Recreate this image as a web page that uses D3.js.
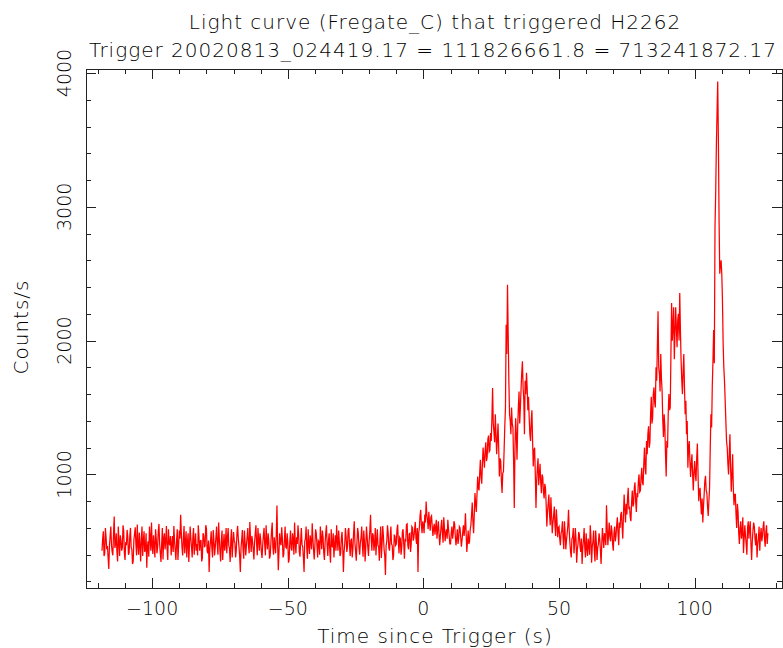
<!DOCTYPE html>
<html>
<head>
<meta charset="utf-8">
<script src="https://cdn.jsdelivr.net/npm/d3@7"></script>
<style>
  html, body { margin: 0; padding: 0; background: #fff; }
  svg { display: block; }
  text { font-family: "DejaVu Sans", "Liberation Sans", sans-serif; font-weight: 200; fill: #000; }
</style>
</head>
<body>
<svg id="chart" width="783" height="648"></svg>
<script>
// Fregate_C count rate in 0.25 s bins, split into three stretches of the light curve.
const binWidth = 0.25;

// Background before the trigger, starting at -118.5 s
const preStart = -118.5;
const countsPre = [
  430, 520, 575, 390, 410, 600, 530, 440, 465, 380, 293, 470, 540, 610, 470, 420, 395, 560, 686, 450,
  480, 560, 420, 350, 610, 500, 390, 545, 505, 430, 455, 620, 580, 410, 360, 495, 470, 585, 530, 400,
  415, 540, 600, 455, 440, 330, 350, 510, 555, 605, 480, 395, 625, 470, 400, 565, 470, 350, 520, 610,
  390, 500, 575, 420, 440, 560, 303, 460, 500, 385, 610, 530, 430, 640, 470, 405, 545, 470, 380, 590,
  520, 410, 455, 575, 630, 480, 410, 345, 480, 600, 365, 520, 560, 440, 500, 615, 440, 360, 590, 485,
  470, 540, 395, 480, 540, 420, 615, 500, 430, 360, 505, 590, 360, 470, 580, 520, 699, 560, 450, 395,
  520, 615, 410, 490, 575, 380, 490, 560, 345, 470, 610, 525, 455, 380, 530, 600, 400, 485, 560, 430,
  480, 395, 620, 540, 430, 500, 510, 350, 375, 560, 545, 460, 465, 620, 595, 430, 410, 505, 270, 440,
  500, 575, 450, 380, 585, 510, 395, 455, 530, 610, 470, 400, 640, 525, 420, 350, 505, 580, 360, 470,
  555, 430, 480, 600, 410, 520, 600, 465, 445, 345, 520, 590, 380, 470, 570, 505, 490, 380, 430, 560,
  615, 520, 460, 390, 270, 450, 510, 585, 440, 370, 580, 495, 395, 470, 530, 600, 470, 410, 645, 520,
  420, 540, 500, 440, 365, 490, 560, 620, 480, 395, 600, 510, 430, 560, 515, 420, 375, 470, 545, 600,
  470, 395, 620, 510, 440, 560, 505, 370, 390, 480, 575, 640, 455, 400, 530, 470, 410, 550, 768, 480,
  283, 420, 560, 490, 470, 605, 520, 380, 400, 510, 610, 455, 450, 560, 495, 340, 365, 500, 580, 450,
  430, 560, 515, 400, 640, 490, 410, 530, 480, 620, 550, 420, 385, 505, 600, 475, 460, 380, 270, 500,
  520, 610, 445, 370, 590, 480, 405, 545, 500, 440, 635, 520, 430, 365, 475, 590, 560, 470, 380, 505,
  495, 400, 610, 520, 440, 580, 530, 415, 360, 490, 565, 620, 470, 390, 505, 560, 420, 340, 590, 470,
  455, 560, 380, 470, 545, 430, 620, 505, 430, 580, 500, 390, 410, 525, 570, 460, 270, 420, 480, 600,
  535, 420, 460, 585, 600, 470, 390, 510, 515, 380, 445, 560, 650, 490, 420, 355, 490, 600, 560, 450,
  400, 490, 525, 610, 470, 385, 580, 500, 350, 460, 610, 535, 455, 390, 505, 580, 699, 520, 430, 560,
  545, 430, 480, 600, 395, 500, 590, 470, 460, 355, 520, 610, 375, 480, 615, 540, 440, 390, 248, 470,
  500, 620, 565, 450, 430, 520, 610, 480, 470, 360, 395, 545, 540, 470, 480, 590, 625, 500, 410, 530,
  520, 400, 455, 570, 590, 480, 370, 510, 505, 625, 630, 470, 440, 555, 560, 420, 480, 610, 600, 505,
  530, 590, 645, 520, 480, 600, 270, 560, 600, 690, 736, 620, 560, 650
];

// First emission episode, from the trigger to 59.75 s
const burst1Start = 0;
const countsBurst1 = [
  620, 560, 700, 640, 798, 700, 660, 590, 720, 640, 580, 680, 690, 610, 540, 600, 630, 550, 600, 660,
  520, 590, 650, 560, 470, 540, 610, 660, 560, 490, 680, 600, 500, 560, 590, 520, 660, 590, 540, 480,
  480, 560, 610, 520, 560, 650, 630, 540, 470, 520, 590, 480, 520, 610, 600, 530, 460, 510, 570, 620,
  540, 600, 710, 560, 420, 500, 580, 480, 500, 590, 620, 700, 790, 650, 560, 700, 860, 780, 720, 850,
  985, 900, 880, 1010, 1110, 980, 930, 1080, 1200, 1120, 1050, 1180, 1240, 1100, 1130, 1260, 1290, 1170, 1180, 1310,
  1250, 1420, 1646, 1380, 1320, 1240, 1450, 1300, 1150, 1260, 1380, 1200, 985, 1120, 1100, 950, 861, 1010, 1020, 1180,
  1360, 1500, 2119, 1900, 2418, 2050, 1700, 1450, 1400, 1300, 1500, 1380, 1350, 1100, 749, 1200, 1420, 1300, 1110, 1350,
  1500, 1620, 1380, 1500, 1640, 1760, 1845, 1650, 1560, 1300, 1700, 1600, 1760, 1650, 1480, 1580, 1420, 1300, 1250, 1400,
  1480, 1250, 1060, 1180, 1200, 1000, 749, 950, 1050, 1120, 920, 1000, 1080, 940, 860, 1000, 980, 870, 820, 930,
  900, 780, 610, 720, 780, 850, 700, 620, 830, 700, 560, 640, 690, 760, 620, 540, 740, 650, 530, 600,
  610, 520, 470, 560, 580, 650, 520, 440, 650, 560, 440, 510, 560, 620, 736, 580, 490, 420, 380, 520,
  530, 600, 410, 480, 600, 520, 340, 440, 480, 570, 550, 460, 420, 520, 330, 450, 510, 600, 450, 380
];

// Second and brightest episode, from 60 s to the end of the record
const burst2Start = 60;
const countsBurst2 = [
  560, 450, 390, 520, 470, 400, 620, 540, 340, 460, 500, 580, 430, 350, 580, 490, 360, 450, 480, 560,
  520, 430, 330, 480, 600, 520, 450, 560, 540, 470, 770, 600, 470, 550, 640, 530, 500, 620, 580, 480,
  430, 560, 610, 500, 540, 620, 680, 560, 470, 640, 600, 700, 720, 610, 520, 700, 850, 740, 640, 780,
  700, 820, 900, 740, 760, 680, 650, 790, 880, 760, 780, 900, 940, 800, 720, 860, 830, 950, 1000, 870,
  880, 980, 1050, 940, 920, 1080, 1200, 1050, 1000, 1250, 1150, 1300, 1360, 1200, 1240, 1450, 1580, 1380, 1420, 1600,
  1650, 1540, 1500, 1800, 1700, 1950, 2219, 1800, 1750, 1620, 1900, 1720, 1620, 1400, 1280, 1450, 1360, 1150, 985, 1250,
  1200, 1450, 1600, 1480, 1500, 1900, 2281, 2000, 2100, 2250, 1860, 2050, 2250, 2100, 1950, 2150, 2200, 2000, 2356, 2080,
  1850, 1700, 1600, 1780, 1900, 1650, 1450, 1550, 1300, 1400, 1050, 1200, 1250, 1100, 980, 1080, 1150, 1000, 880, 1020,
  1100, 1000, 950, 1120, 1230, 1000, 800, 880, 900, 780, 700, 820, 640, 760, 850, 950, 990, 880, 860, 760,
  690, 800, 900, 1200, 1450, 1350, 1660, 1850, 2080, 1830, 2850, 3100, 3451, 3700, 3937, 3500, 2900, 2500, 2560, 2600,
  2500, 2300, 1980, 1800, 1700, 1550, 1400, 1250, 1200, 1080, 1000, 1150, 1300, 1050, 870, 1000, 1150, 900, 770, 850,
  850, 700, 600, 780, 720, 560, 480, 600, 650, 520, 560, 680, 413, 520, 620, 540, 480, 400, 600, 650,
  520, 600, 650, 480, 360, 500, 580, 640, 610, 520, 470, 560, 380, 480, 520, 610, 430, 540, 600, 500,
  540, 610, 650, 520, 460, 570, 620, 480, 560
];

// Axis ticks and text
const xMajorTicks = [-100, -50, 0, 50, 100];
const xMinorTicks = d3.range(-120, 131, 10);
const yMajorTicks = [1000, 2000, 3000, 4000];
const yMinorTicks = d3.range(200, 4001, 200);
const titleLines = [
  "Light curve (Fregate_C) that triggered H2262",
  "Trigger 20020813_024419.17 = 111826661.8 = 713241872.17"
];
const xLabel = "Time since Trigger (s)";
const yLabel = "Counts/s";

const series = [
  [preStart, countsPre],
  [burst1Start, countsBurst1],
  [burst2Start, countsBurst2]
].flatMap(([start, arr]) => arr.map((v, i) => ({ t: start + i * binWidth, v })));

const svg = d3.select("#chart");
const plot = { left: 86, right: 782, top: 69, bottom: 588 };

const x = d3.scaleLinear().domain([-124.4, 132.2]).range([plot.left, plot.right]);
const y = d3.scaleLinear().domain([151, 4030]).range([plot.bottom, plot.top]);

// Light curve
svg.append("path")
  .datum(series)
  .attr("fill", "none")
  .attr("stroke", "#ff0000")
  .attr("stroke-width", 1.25)
  .attr("d", d3.line().x(d => x(d.t)).y(d => y(d.v)));

// Frame
const axisColor = "#222";
svg.append("rect")
  .attr("x", plot.left + 0.5).attr("y", plot.top + 0.5)
  .attr("width", plot.right - plot.left).attr("height", plot.bottom - plot.top)
  .attr("fill", "none").attr("stroke", axisColor).attr("stroke-width", 1);

const majorLen = 10, minorLen = 5;
const ticks = svg.append("g").attr("stroke", axisColor).attr("stroke-width", 1);

// Inward ticks on bottom and top edges
xMinorTicks.forEach(t => {
  const len = xMajorTicks.includes(t) ? majorLen : minorLen;
  const px = Math.round(x(t)) + 0.5;
  ticks.append("line").attr("x1", px).attr("x2", px)
    .attr("y1", plot.bottom).attr("y2", plot.bottom - len);
  ticks.append("line").attr("x1", px).attr("x2", px)
    .attr("y1", plot.top).attr("y2", plot.top + len);
});

// Inward ticks on left and right edges
yMinorTicks.forEach(v => {
  const len = yMajorTicks.includes(v) ? majorLen : minorLen;
  const py = Math.round(y(v)) + 0.5;
  ticks.append("line").attr("y1", py).attr("y2", py)
    .attr("x1", plot.left).attr("x2", plot.left + len);
  ticks.append("line").attr("y1", py).attr("y2", py)
    .attr("x1", plot.right).attr("x2", plot.right - len);
});

const fmt = d3.format("d");

// X tick labels
svg.append("g").selectAll("text")
  .data(xMajorTicks)
  .join("text")
  .attr("x", d => x(d))
  .attr("y", 615)
  .attr("text-anchor", "middle")
  .attr("font-size", 19)
  .text(d => (d < 0 ? "\u2212" : "") + fmt(Math.abs(d)));

// Y tick labels, rotated
svg.append("g").selectAll("text")
  .data(yMajorTicks)
  .join("text")
  .attr("transform", d => `translate(71, ${y(d)}) rotate(-90)`)
  .attr("text-anchor", "middle")
  .attr("font-size", 19)
  .text(d => fmt(d));

// Titles
const spaced = sel => sel.attr("font-size", 20).attr("letter-spacing", 1);
svg.append("text").attr("x", 435).attr("y", 29)
  .attr("text-anchor", "middle").call(spaced).text(titleLines[0]);
svg.append("text").attr("x", 433).attr("y", 57)
  .attr("text-anchor", "middle").call(spaced).text(titleLines[1]);

// Axis titles
svg.append("text").attr("x", 435).attr("y", 643)
  .attr("text-anchor", "middle").call(spaced).text(xLabel);
svg.append("text")
  .attr("transform", "translate(28, 327) rotate(-90)")
  .attr("text-anchor", "middle").call(spaced).text(yLabel);
</script>
</body>
</html>
